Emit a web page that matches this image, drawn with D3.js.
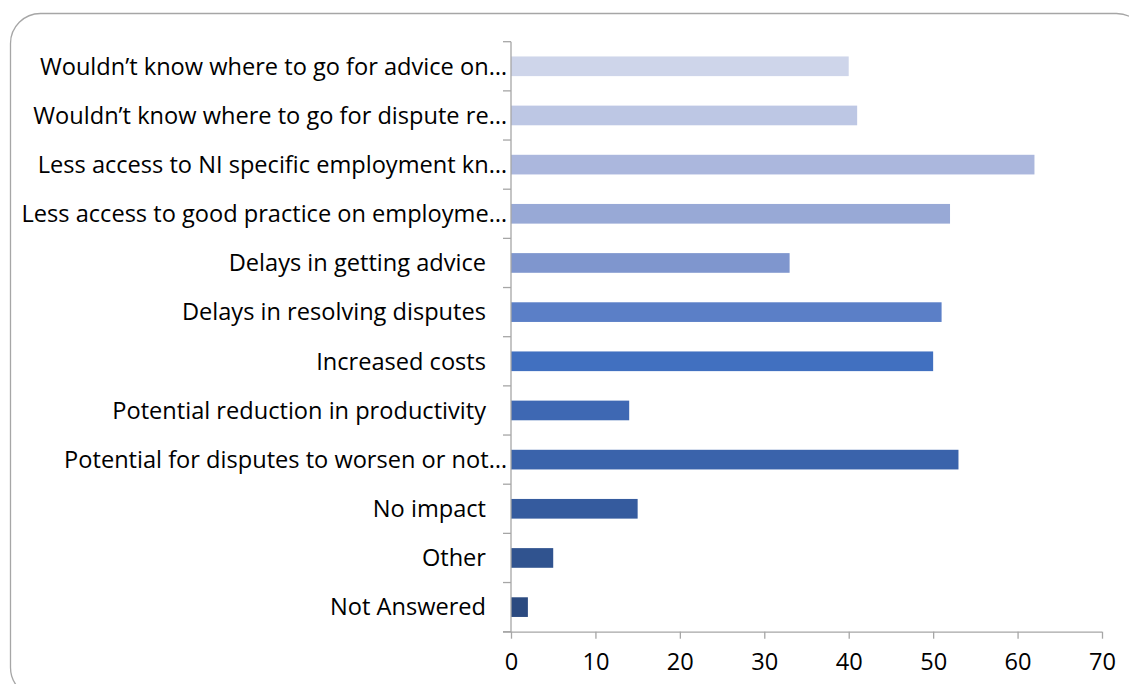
<!DOCTYPE html>
<html>
<head>
<meta charset="utf-8">
<script src="https://cdn.jsdelivr.net/npm/d3@7"></script>
<style>
  html, body { margin: 0; padding: 0; background: #fff; }
  svg { display: block; }
  text { font-family: "Open Sans", "Noto Sans", sans-serif; fill: #000; }
</style>
</head>
<body>
<svg id="chart" width="1129" height="684"></svg>
<script>
// Survey responses: expected impact, count of respondents per option
const categories = [
  "Wouldn\u2019t know where to go for advice on\u2026",
  "Wouldn\u2019t know where to go for dispute re\u2026",
  "Less access to NI specific employment kn\u2026",
  "Less access to good practice on employme\u2026",
  "Delays in getting advice",
  "Delays in resolving disputes",
  "Increased costs",
  "Potential reduction in productivity",
  "Potential for disputes to worsen or not\u2026",
  "No impact",
  "Other",
  "Not Answered"
];
const counts = [40, 41, 62, 52, 33, 51, 50, 14, 53, 15, 5, 2];
const barColors = [
  "#CED5EA", "#BDC7E4", "#ABB7DD", "#98A9D6", "#7F96CE", "#5B7FC7",
  "#4170C0", "#3E68B3", "#3A63AB", "#355B9E", "#30538F", "#2B4A80"
];
const xTicks = [0, 10, 20, 30, 40, 50, 60, 70];

const svg = d3.select("#chart");
const axisColor = "#A6A6A6";
const labelSize = "23.6px";

// Rounded chart frame (runs off the right and bottom edges)
svg.append("rect")
  .attr("x", 10.5).attr("y", 13.5)
  .attr("width", 1136).attr("height", 684)
  .attr("rx", 30).attr("ry", 30)
  .attr("fill", "#fff")
  .attr("stroke", "#A6A6A6")
  .attr("stroke-width", 1.3);

const plot = { left: 511, right: 1102, top: 41.7, bottom: 631.7 };

const x = d3.scaleLinear().domain([0, 70]).range([plot.left, plot.right]);
const y = d3.scaleBand().domain(categories).range([plot.top, plot.bottom])
  .paddingInner(0.6).paddingOuter(0.3);
const band = d3.scaleBand().domain(categories).range([plot.top, plot.bottom]);

// Bars
svg.append("g").selectAll("rect")
  .data(categories)
  .join("rect")
  .attr("x", x(0))
  .attr("y", d => y(d))
  .attr("width", (d, i) => x(counts[i]) - x(0))
  .attr("height", y.bandwidth())
  .attr("fill", (d, i) => barColors[i]);

// Category axis: vertical line with ticks at band boundaries
const yAxis = svg.append("g");
yAxis.append("line")
  .attr("x1", x(0)).attr("x2", x(0))
  .attr("y1", plot.top).attr("y2", plot.bottom)
  .attr("stroke", axisColor).attr("stroke-width", 1.3);
const bounds = categories.map(d => band(d)).concat([plot.bottom]);
yAxis.selectAll("line.tick")
  .data(bounds)
  .join("line")
  .attr("class", "tick")
  .attr("x1", x(0) - 8).attr("x2", x(0))
  .attr("y1", d => d).attr("y2", d => d)
  .attr("stroke", axisColor).attr("stroke-width", 1.3);

// Category labels, right aligned; truncated ones sit closer to the axis
svg.append("g").selectAll("text")
  .data(categories)
  .join("text")
  .attr("x", d => d.endsWith("\u2026") ? x(0) - 4 : x(0) - 25)
  .attr("y", d => band(d) + band.bandwidth() / 2)
  .attr("dy", "0.35em")
  .attr("text-anchor", "end")
  .style("font-size", labelSize)
  .text(d => d);

// Value axis
const xAxis = svg.append("g")
  .attr("transform", `translate(0,${plot.bottom})`)
  .call(d3.axisBottom(x).tickValues(xTicks).tickSize(7).tickSizeOuter(0).tickPadding(15));
xAxis.select(".domain").attr("stroke", axisColor).attr("stroke-width", 1.3)
  .attr("d", `M${x(0) - 8},0.5H${plot.right}`);
xAxis.selectAll(".tick line").attr("stroke", axisColor).attr("stroke-width", 1.3);
xAxis.selectAll(".tick text")
  .style("font-family", "'Open Sans', 'Noto Sans', sans-serif")
  .style("font-size", labelSize)
  .attr("fill", "#000");
</script>
</body>
</html>
